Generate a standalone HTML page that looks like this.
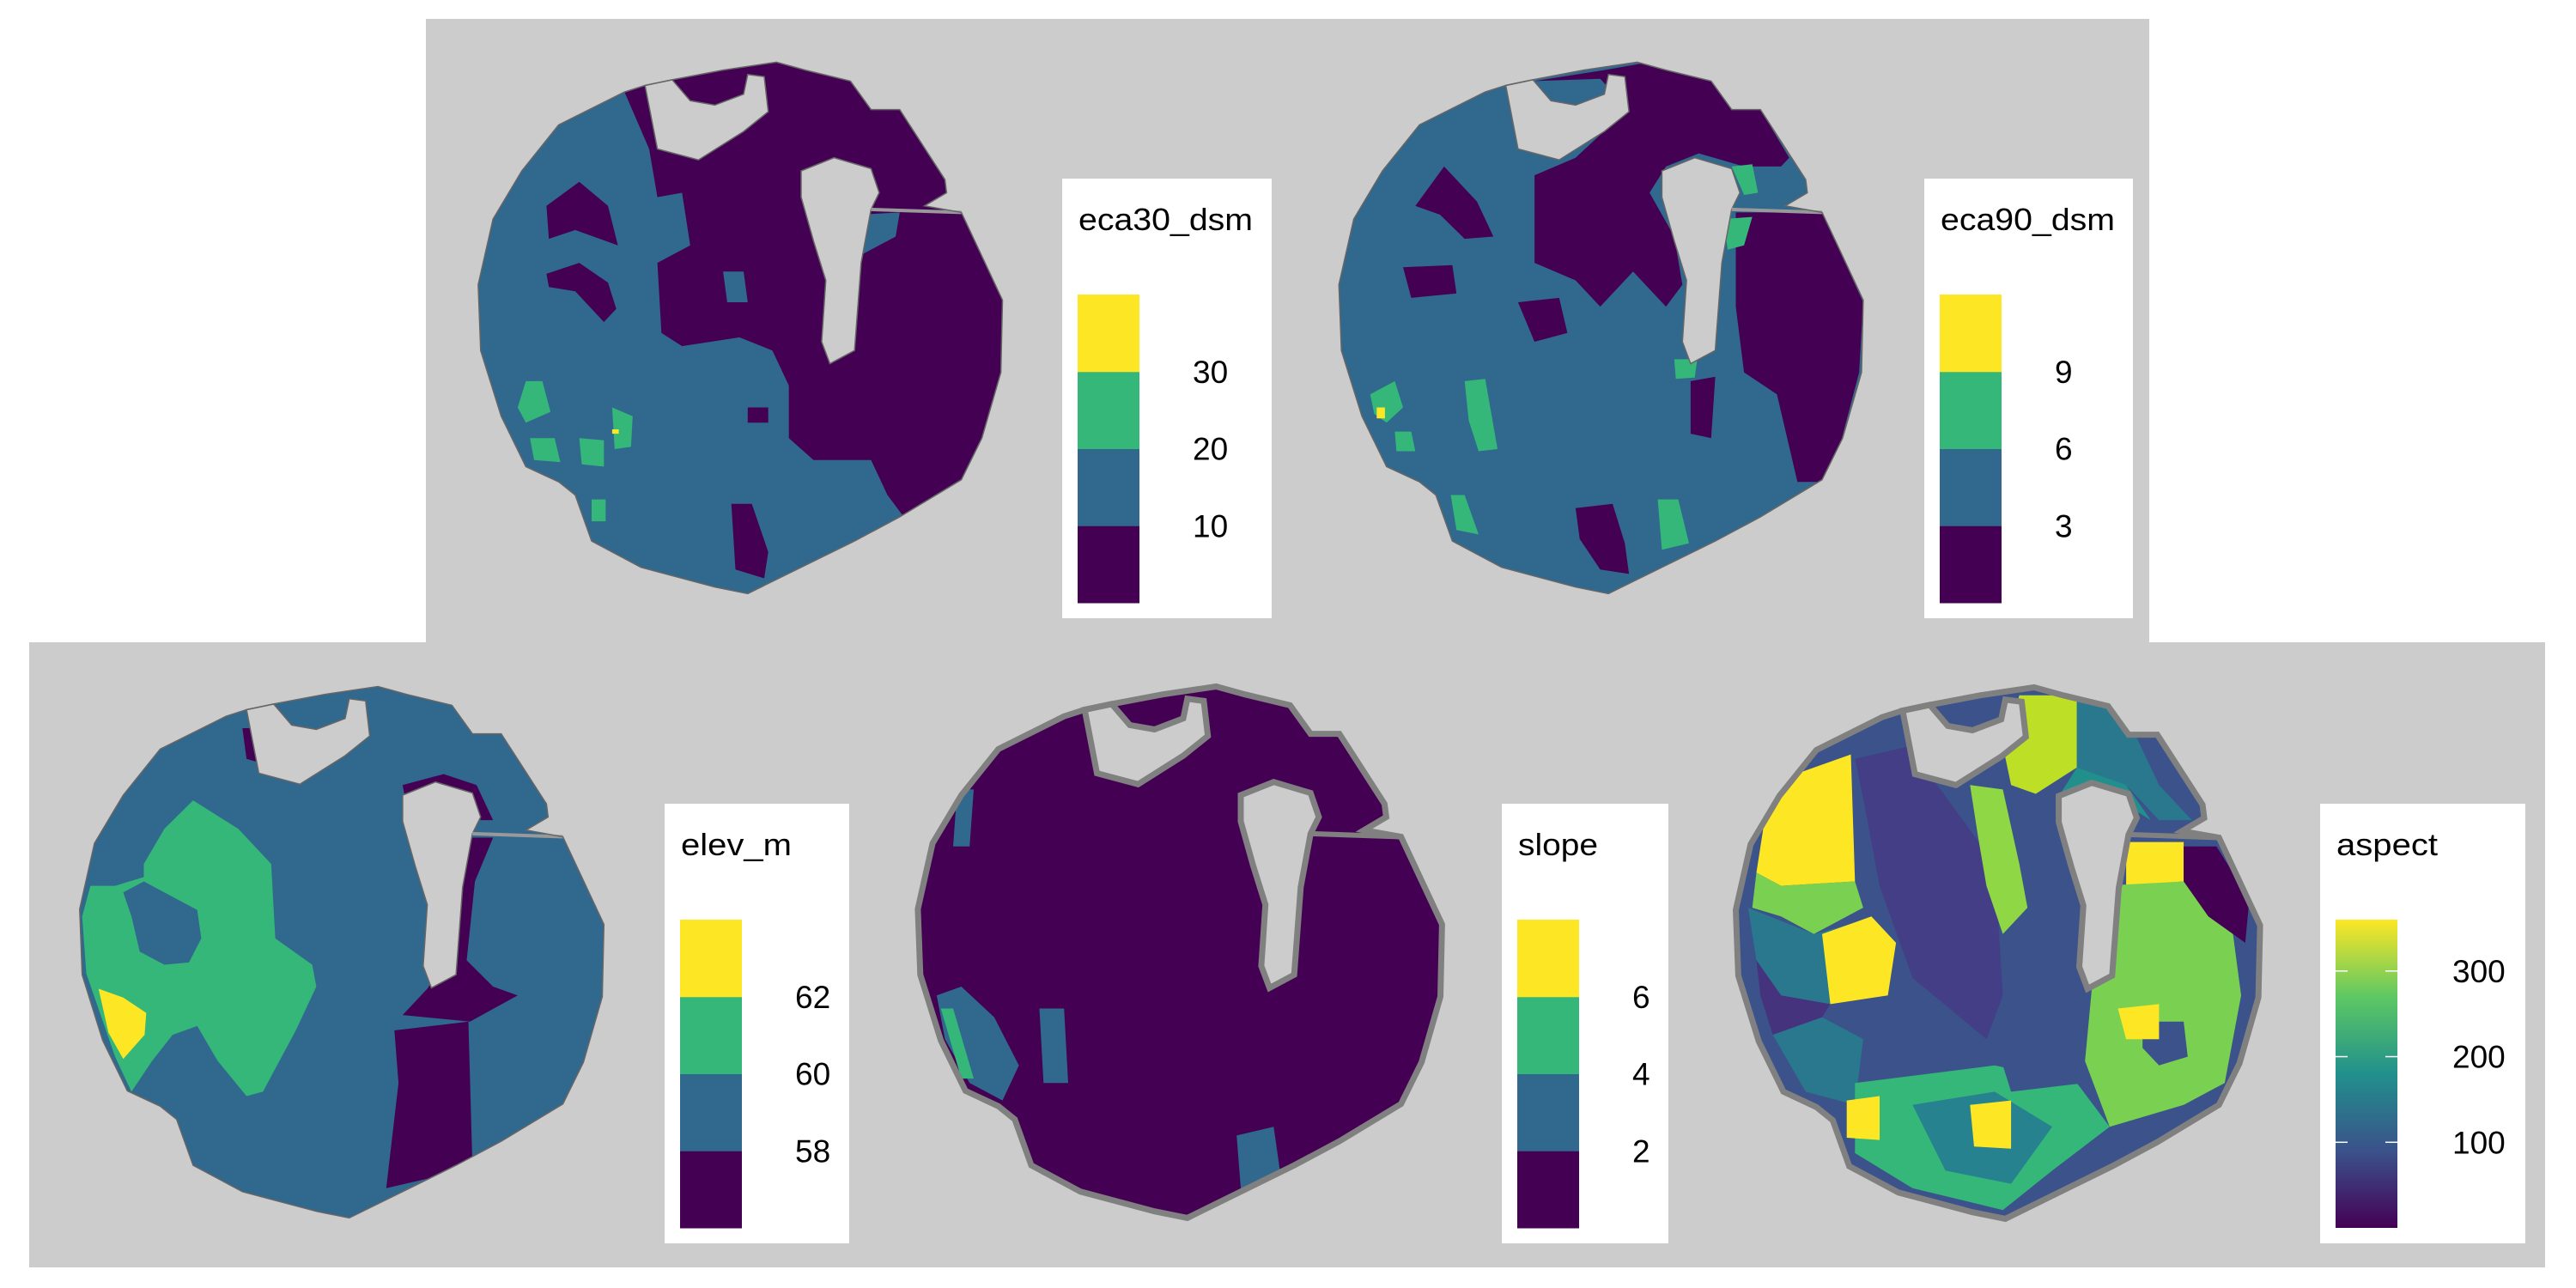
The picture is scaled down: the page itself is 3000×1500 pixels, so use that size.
<!DOCTYPE html>
<html><head><meta charset="utf-8">
<style>
html,body{margin:0;padding:0;background:#fff;}
svg{display:block;font-family:"Liberation Sans",Arial,sans-serif;}
</style></head>
<body>
<svg id="fig" width="3000" height="1500" viewBox="0 0 3000 1500" xmlns="http://www.w3.org/2000/svg">
<rect x="0" y="0" width="3000" height="1500" fill="#ffffff"/>
<rect x="496" y="22" width="2007" height="727" fill="#cccccc"/>
<rect x="34" y="748" width="2930" height="728" fill="#cccccc"/>
<defs>
<linearGradient id="virgrad" x1="0" y1="1" x2="0" y2="0">
<stop offset="0" stop-color="#440154"/><stop offset="0.25" stop-color="#3B528B"/><stop offset="0.5" stop-color="#21908C"/><stop offset="0.75" stop-color="#5DC863"/><stop offset="1" stop-color="#FDE725"/>
</linearGradient>
</defs>
<g id="maps"></g>
<g id="legends"></g>
</svg>
<script>
// ---- legend data ----
const VIR = ['#440154','#31688E','#35B779','#FDE725'];
const eca30Ticks = [10,20,30];
const eca90Ticks = [3,6,9];
const elevTicks = [58,60,62];
const slopeTicks = [2,4,6];
const aspectTicks = [100,200,300];
const aspectRange = [0,360];

const NS='http://www.w3.org/2000/svg';
const svg=document.getElementById('fig');
const gm=document.getElementById('maps');
const gl=document.getElementById('legends');
function mk(tag,attrs,parent){const e=document.createElementNS(NS,tag);for(const k in attrs)e.setAttribute(k,attrs[k]);(parent||svg).appendChild(e);return e;}

const OUT=[680,285,760,210,785,195,818,182,880,160,945,142,980,160,1035,185,1060,250,1095,250,1150,410,1152,440,1125,470,1170,485,1220,685,1218,850,1195,1000,1170,1095,1095,1180,1040,1235,910,1355,870,1340,780,1295,720,1235,700,1130,680,1100,640,1065,610,950,585,800,582,650,600,500,635,390];
const HOLE1=[785,195,800,340,850,365,905,300,935,255,930,175,910,170,905,215,870,240,840,230,818,182];
const HOLE2=[975,390,1015,360,1060,385,1070,440,1060,478,1048,600,1040,800,1010,830,1000,780,1005,640,990,550,975,450];
const SLIT=[1060,478,1170,485];

const P='#440154',B='#31688E',G='#35B779',Y='#FDE725';
const maps=[
 {name:'eca30-map',X0:0,Y0:0,dx:0,dy:0,base:P,stroke:0,regions:[
  [B,[680,285,760,210,790,340,800,450,830,440,840,560,800,600,805,760,830,790,900,770,940,800,960,880,960,1000,990,1050,1060,1050,1080,1130,1100,1180,1040,1235,910,1355,870,1340,780,1295,720,1235,700,1130,680,1100,640,1065,610,950,585,800,582,650,600,500,635,390]],
  [B,[1045,490,1095,485,1090,540,1050,580]],
  [B,[880,620,905,620,910,690,885,690]],
  [P,[665,470,705,415,740,470,752,560,700,525,668,545]],
  [P,[665,625,705,600,740,645,750,705,735,735,700,665,668,655]],
  [P,[890,1150,915,1150,935,1260,930,1320,895,1300]],
  [P,[910,930,935,930,935,965,910,965]],
  [G,[640,870,660,870,670,940,640,965,630,930]],
  [G,[645,1000,675,1000,682,1055,650,1050]],
  [G,[705,1000,735,1005,735,1065,708,1060]],
  [G,[745,930,770,950,768,1020,748,1025]],
  [G,[720,1140,737,1140,737,1190,720,1190]],
  [Y,[745,980,753,980,753,990,745,990]]
 ]},
 {name:'eca90-map',X0:1500,Y0:0,dx:-520,dy:0,base:B,stroke:0,regions:[
  [P,[300,185,385,160,430,145,520,185,545,250,575,250,610,360,600,380,555,380,500,350,460,380,440,440,470,540,480,650,460,700,420,620,380,700,350,640,300,600,300,400,350,360,390,290,410,240,380,180]],
  [P,[545,485,650,485,700,690,695,850,660,1100,620,1100,595,900,555,850,545,700,545,560]],
  [P,[155,470,190,380,230,460,250,540,215,545,185,490]],
  [P,[140,610,200,605,205,670,150,680]],
  [P,[350,1160,395,1150,410,1240,415,1310,380,1300,355,1230]],
  [P,[490,870,520,860,515,1000,490,990]],
  [P,[280,690,330,680,340,760,300,780]],
  [G,[100,900,130,870,140,930,120,965,105,945]],
  [G,[215,870,240,865,255,1025,232,1030,220,960]],
  [G,[130,985,150,985,155,1030,132,1030]],
  [G,[198,1130,215,1130,232,1220,205,1210]],
  [G,[450,1140,475,1140,488,1240,455,1255]],
  [G,[470,820,498,820,495,862,472,865]],
  [G,[540,380,565,375,572,440,555,445]],
  [G,[530,500,565,495,555,560,535,570]],
  [Y,[108,930,118,930,118,955,108,955]]
 ]},
 {name:'elev-m-map',X0:0,Y0:700,dx:-485,dy:53,base:B,stroke:0,regions:[
  [G,[235,455,290,520,330,600,335,770,380,830,385,880,360,980,320,1120,300,1130,265,1050,240,970,210,990,185,1050,160,1120,140,1040,105,850,100,720,110,650,140,650,175,630,175,600,200,520]],
  [B,[150,665,175,640,240,705,245,770,230,825,200,830,170,800,160,720]],
  [B,[240,975,262,1060,290,1130,190,1130,198,1060,215,995]],
  [Y,[120,885,150,905,178,940,176,990,150,1045,132,985]],
  [P,[480,980,570,960,575,1290,540,1310,470,1340,485,1100]],
  [P,[560,540,600,540,578,640,568,820,600,880,630,900,572,960,490,945,520,885,558,780]],
  [P,[490,420,540,395,580,420,600,500,585,500,560,440,520,430,495,470]],
  [P,[295,290,310,290,318,370,300,360]]
 ]},
 {name:'slope-map',X0:0,Y0:700,dx:535,dy:53,base:P,stroke:1,regions:[
  [B,[1140,900,1170,880,1210,950,1240,1060,1220,1140,1180,1100,1150,1000]],
  [B,[1265,930,1295,930,1300,1100,1270,1100]],
  [B,[1165,430,1185,430,1180,560,1160,560]],
  [B,[1505,1220,1550,1200,1560,1330,1510,1340]],
  [G,[1145,930,1160,930,1185,1090,1170,1090]]
 ]},
 {name:'aspect-map',X0:1500,Y0:700,dx:-37,dy:55,base:'#3B528B',stroke:1,regions:[
  [Y,[610,400,685,350,690,640,600,650,570,620,580,500]],
  ['#7AD151',[570,620,600,650,690,640,700,700,640,760,600,720,565,700]],
  ['#2A788E',[560,700,640,760,700,730,720,900,660,920,600,900,570,820]],
  [Y,[650,760,710,720,740,780,730,900,660,920]],
  ['#46337E',[570,820,600,900,660,920,650,950,590,990,575,900]],
  ['#2A788E',[590,990,650,950,700,1000,690,1150,630,1120]],
  ['#433E85',[690,360,760,330,790,420,860,600,870,900,850,1000,760,860,720,650,700,450]],
  ['#8FD744',[830,420,870,430,890,600,900,700,870,760,850,650,840,540]],
  ['#BDDF26',[890,215,960,215,960,380,910,440,880,420,870,330]],
  ['#2A788E',[960,230,1000,240,1030,300,1060,420,1100,500,1060,500,1020,420,960,400]],
  ['#21908C',[960,380,1020,420,1050,500,990,430,940,440]],
  [Y,[1020,550,1090,550,1090,640,1020,650]],
  ['#7AD151',[990,650,1090,640,1150,760,1160,900,1140,1100,1090,1150,1000,1200,970,1050,980,850]],
  ['#440154',[1090,560,1130,560,1170,680,1165,780,1120,720,1090,640]],
  ['#3B528B',[1040,960,1090,960,1095,1040,1060,1060,1040,1020]],
  [Y,[1010,930,1060,920,1060,1000,1020,1000]],
  ['#35B779',[690,1100,860,1060,960,1100,1000,1200,930,1300,870,1390,760,1340,690,1260]],
  ['#26828E',[760,1150,860,1120,930,1200,880,1330,800,1300]],
  [Y,[680,1140,720,1130,720,1230,680,1225]],
  [Y,[830,1150,880,1140,880,1250,835,1245]],
  ['#3B528B',[860,1000,960,1000,970,1100,880,1120]]
 ]}
];

function conv(arr,X0,Y0,dx,dy){const o=[];for(let i=0;i<arr.length;i+=2){o.push((X0+(arr[i]+dx)/1.045).toFixed(1)+','+(Y0+(arr[i+1]+dy)/1.96).toFixed(1));}return o.join(' ');}

maps.forEach((m,mi)=>{
  const g=mk('g',{},gm);
  
  
  const outPts=conv(OUT,m.X0,m.Y0,m.dx,m.dy);
  const cp=mk('clipPath',{id:'clip'+mi},g);
  mk('polygon',{points:outPts},cp);
  const inner=mk('g',{'clip-path':'url(#clip'+mi+')'},g);
  const basePoly=mk('polygon',{points:outPts,fill:m.base},inner);
  
  
  m.regions.forEach(r=>{
    const p=mk('polygon',{points:conv(r[1],m.X0,m.Y0,0,0),fill:r[0]},inner);
    
    
  });
  const sw=m.stroke?7:1.5, sc=m.stroke?'#808080':'#666666';
  const h1=mk('polygon',{points:conv(HOLE1,m.X0,m.Y0,m.dx,m.dy),fill:'#cccccc',stroke:sc,'stroke-width':sw},g);
  
  
  const h2=mk('polygon',{points:conv(HOLE2,m.X0,m.Y0,m.dx,m.dy),fill:'#cccccc',stroke:sc,'stroke-width':sw},g);
  
  
  const sl=conv(SLIT,m.X0,m.Y0,m.dx,m.dy).split(' ').map(s=>s.split(','));
  const ln=mk('line',{x1:sl[0][0],y1:sl[0][1],x2:sl[1][0],y2:sl[1][1],stroke:m.stroke?'#808080':'#999',
    'stroke-width':m.stroke?6:4},g);
  
  
  const ol=mk('polygon',{points:outPts,fill:'none',stroke:sc,'stroke-width':sw},g);
  
  
});

const legends=[
 {name:'eca30-legend',title:'eca30_dsm',x:1237,y:208,w:244,h:512,ticks:eca30Ticks,tw:203,type:'bin'},
 {name:'eca90-legend',title:'eca90_dsm',x:2241,y:208,w:243,h:512,ticks:eca90Ticks,tw:203,type:'bin'},
 {name:'elev-legend',title:'elev_m',x:774,y:936,w:215,h:512,ticks:elevTicks,tw:129,type:'bin'},
 {name:'slope-legend',title:'slope',x:1749,y:936,w:194,h:512,ticks:slopeTicks,tw:93,type:'bin'},
 {name:'aspect-legend',title:'aspect',x:2702,y:936,w:239,h:512,ticks:aspectTicks,tw:118,type:'cont'}
];
legends.forEach(L=>{
  const g=mk('g',{},gl);
  
  
  mk('rect',{x:L.x,y:L.y,width:L.w,height:L.h,fill:'#fff'},g);
  const t=mk('text',{x:L.x+19,y:L.y+60,'font-size':36,fill:'#000',textLength:L.tw,lengthAdjust:'spacingAndGlyphs'},g);
  t.textContent=L.title;
  
  
  const bx=L.x+18,bw=72,by=L.y+135,bh=359;
  if(L.type==='bin'){
    const n=L.ticks.length+1, step=bh/n;
    for(let i=0;i<n;i++){
      const r=mk('rect',{x:bx,y:by+bh-(i+1)*step,width:bw,height:step+0.5,fill:VIR[i]},g);
      
      
    }
    L.ticks.forEach((v,i)=>{
      const yy=by+bh-(i+1)*step;
      const tx=mk('text',{x:bx+bw+62,y:yy+13,'font-size':37,fill:'#000'},g);
      tx.textContent=v;
      
      
    });
  } else {
    const r=mk('rect',{x:bx,y:by,width:bw,height:bh,fill:'url(#virgrad)'},g);
    
    
    const sc=v=>by+bh-(v-aspectRange[0])/(aspectRange[1]-aspectRange[0])*bh;
    L.ticks.forEach(v=>{
      const yy=sc(v);
      mk('line',{x1:bx,y1:yy,x2:bx+14,y2:yy,stroke:'#fff','stroke-width':1.5},g);
      mk('line',{x1:bx+bw-14,y1:yy,x2:bx+bw,y2:yy,stroke:'#fff','stroke-width':1.5},g);
      const tx=mk('text',{x:bx+bw+64,y:yy+13,'font-size':37,fill:'#000'},g);
      tx.textContent=v;
      
      
    });
  }
});
</script>
</body></html>
